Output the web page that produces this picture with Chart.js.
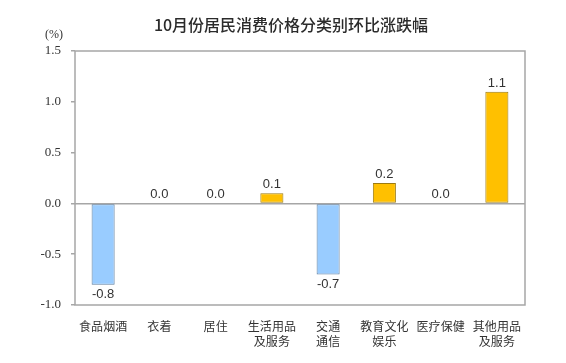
<!DOCTYPE html>
<html>
<head>
<meta charset="utf-8">
<script src="https://cdn.jsdelivr.net/npm/chart.js@4"></script>
<style>
  html, body { margin: 0; padding: 0; background: #fff; }
  #wrap { width: 566px; height: 363px; }
</style>
</head>
<body>
<div id="wrap"><canvas id="myChart"></canvas></div>
<script>
// categories and values (环比, %)
const categories = [
	["食品烟酒"], ["衣着"], ["居住"], ["生活用品", "及服务"],
	["交通", "通信"], ["教育文化", "娱乐"], ["医疗保健"], ["其他用品", "及服务"],
];
const values = [-0.8, 0.0, 0.0, 0.1, -0.7, 0.2, 0.0, 1.1];
const yTicks = [1.5, 1.0, 0.5, 0.0, -0.5, -1.0];

const sansFont = "'Liberation Sans', Arial, 'Noto Sans CJK SC', sans-serif";
const serifFont = "'Liberation Serif', 'Times New Roman', serif";

// title, unit label, frame and value labels
const extras = {
	id: "extras",
	afterDraw(chart) {
		const { ctx, chartArea: a } = chart;
		ctx.save();
		ctx.strokeStyle = "#a6a6a6";
		ctx.lineWidth = 1.5;
		ctx.strokeRect(a.left, a.top, a.right - a.left, a.bottom - a.top);

		ctx.fillStyle = "#2b2b2b";
		ctx.textAlign = "center";
		ctx.textBaseline = "middle";
		ctx.font = "500 16px 'Noto Sans CJK SC', sans-serif";
		ctx.fillText("10月份居民消费价格分类别环比涨跌幅", 291, 25);

		ctx.fillStyle = "#333";
		ctx.font = "12px " + serifFont;
		ctx.fillText("(%)", 54, 35);

		ctx.font = "13px " + sansFont;
		const meta = chart.getDatasetMeta(0);
		meta.data.forEach((bar, i) => {
			const v = values[i];
			if (v < 0) {
				ctx.textBaseline = "top";
				ctx.fillText(v.toFixed(1), bar.x, bar.y + 3);
			} else {
				ctx.textBaseline = "bottom";
				ctx.fillText(v.toFixed(1), bar.x, bar.y - 2);
			}
		});
		ctx.restore();
	},
};

const ctx = document.getElementById("myChart").getContext("2d");
new Chart(ctx, {
	type: "bar",
	data: {
		labels: categories,
		datasets: [
			{
				data: values,
				backgroundColor: values.map((v) => (v < 0 ? "#99ccff" : "#ffc000")),
				borderColor: values.map((v) => (v < 0 ? "#5f7f9f" : "#9c7a10")),
				borderWidth: 1,
				borderSkipped: false,
				categoryPercentage: 1,
				barPercentage: 0.41,
			},
		],
	},
	options: {
		responsive: true,
		maintainAspectRatio: false,
		animation: false,
		layout: { padding: { top: 51, right: 41, left: 0, bottom: 0 } },
		plugins: {
			legend: { display: false },
			title: { display: false },
			tooltip: { enabled: false },
		},
		scales: {
			x: {
				grid: { display: false },
				border: { display: false },
				ticks: {
					color: "#333",
					font: { size: 12, family: "'Noto Sans CJK SC', sans-serif", lineHeight: 1.25 },
					padding: 6,
					maxRotation: 0,
					autoSkip: false,
				},
				afterFit: (s) => { s.height = 58; },
			},
			y: {
				min: -1.0,
				max: 1.5,
				afterBuildTicks: (s) => { s.ticks = yTicks.map((v) => ({ value: v })); },
				grid: {
					drawOnChartArea: true,
					color: (c) => (c.tick && c.tick.value === 0 ? "#a6a6a6" : "transparent"),
					lineWidth: 1.5,
					tickColor: "#a6a6a6",
					tickLength: 4,
				},
				border: { display: false },
				ticks: {
					color: "#333",
					font: { size: 13, family: serifFont },
					padding: 10,
					callback: (v) => Number(v).toFixed(1),
				},
				afterFit: (s) => { s.width = 75; },
			},
		},
	},
	plugins: [extras],
});
</script>
</body>
</html>
